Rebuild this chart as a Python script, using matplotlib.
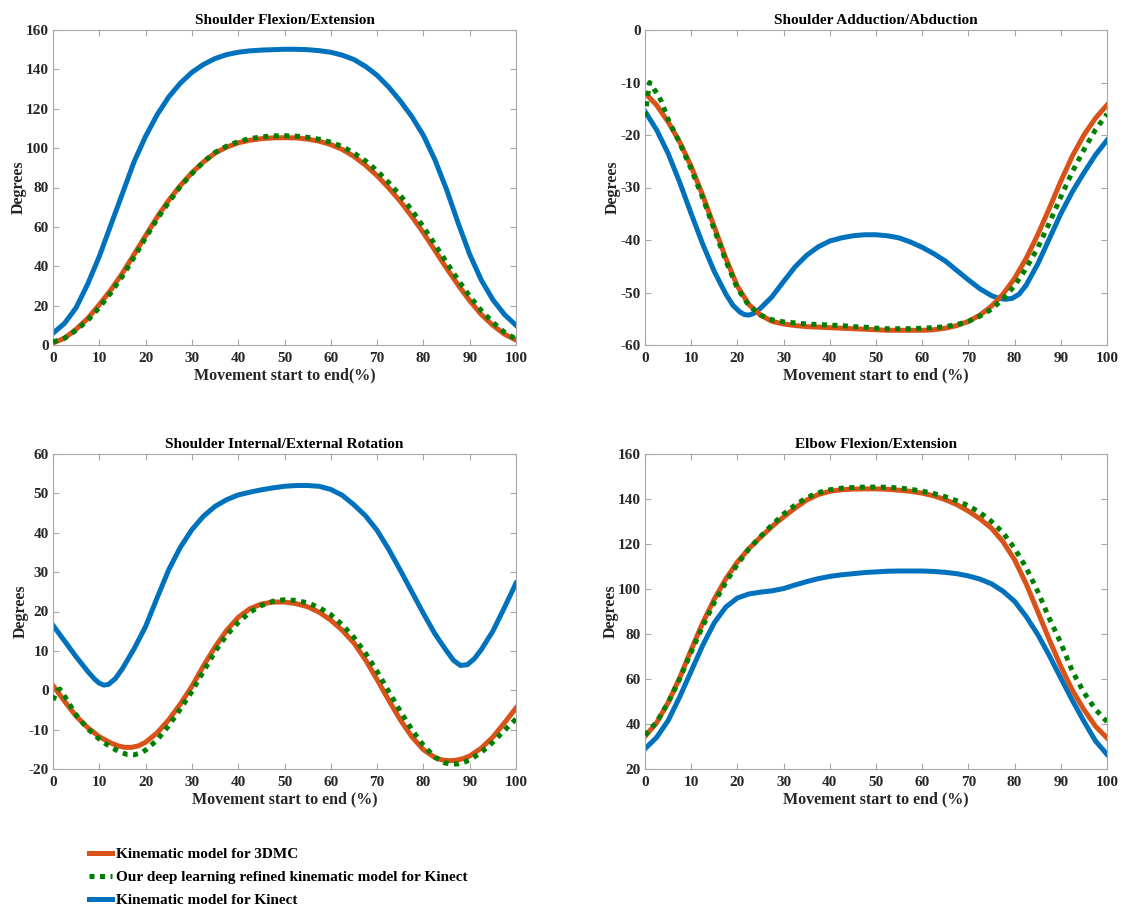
import numpy as np
import matplotlib
matplotlib.use("Agg")
import matplotlib.pyplot as plt

plt.rcParams['font.family'] = ['Liberation Serif', 'DejaVu Serif']
plt.rcParams['font.weight'] = 'bold'
plt.rcParams['axes.unicode_minus'] = False

# ---------------- data ----------------
x = [0, 2.5, 5, 7.5, 10, 12.5, 15, 17.5, 20, 22.5, 25, 27.5, 30, 32.5, 35, 37.5, 40,
     42.5, 45, 47.5, 50, 52.5, 55, 57.5, 60, 62.5, 65, 67.5, 70, 72.5, 75, 77.5, 80,
     82.5, 85, 87.5, 90, 92.5, 95, 97.5, 100]

# Shoulder Flexion/Extension
sfe_3dmc = [1, 3.5, 8, 13.5, 20.5, 28, 36.5, 46, 55.5, 65, 73.5, 81, 87.5, 93, 97.5, 100.5, 102.7,
            104, 104.8, 105.2, 105.3, 105.2, 104.6, 103.5, 101.8, 99.3, 95.8, 91.3, 86, 79.8, 73,
            65.3, 57, 48, 39, 30.5, 22.5, 15.5, 10, 5.5, 2.5]
sfe_dl = [1.5, 3.5, 7.5, 12.5, 19, 26.5, 35, 44.5, 54.5, 64, 72.5, 80.5, 87, 93, 97.8, 101, 103.3,
          104.8, 105.7, 106.2, 106.3, 106.1, 105.5, 104.5, 103, 100.8, 97.5, 93.5, 88.5, 82.5, 76,
          68.5, 60, 51, 42, 33, 24.8, 17.5, 11.5, 6.5, 3]
sfe_kin = [6, 11, 19, 31, 45, 61, 77, 93, 106, 117, 126, 133, 138.5, 142.5, 145.5, 147.5, 148.7,
           149.4, 149.8, 150, 150.2, 150.2, 150, 149.5, 148.7, 147.2, 145, 141.5, 137, 131, 124,
           116, 106.5, 94, 79, 62, 46, 33, 23, 15.5, 10]

# Shoulder Adduction/Abduction
saa_3dmc = [-12, -14.3, -17.5, -21.3, -26, -31.5, -37.5, -43.5, -48.8, -52.3, -54.3, -55.5, -56,
            -56.3, -56.5, -56.6, -56.7, -56.8, -56.9, -57, -57.1, -57.2, -57.2, -57.2, -57.2,
            -57.1, -56.8, -56.3, -55.5, -54.3, -52.6, -50.3, -47.3, -43.5, -39, -34, -28.8,
            -24, -20, -16.8, -14.3]
saa_dl_x = [0, 0.5, 1, 1.5, 2, 2.5, 3.5, 5, 7.5, 10, 12.5, 15, 17.5, 20, 22.5, 25, 27.5, 30, 32.5,
            35, 37.5, 40, 42.5, 45, 47.5, 50, 52.5, 55, 57.5, 60, 62.5, 65, 67.5, 70, 72.5, 75,
            77.5, 80, 82.5, 85, 87.5, 90, 92.5, 95, 97.5, 100]
saa_dl = [-16.5, -13, -10, -10.5, -11.3, -12, -13.5, -17, -21.5, -26.5, -32, -38, -44, -49.2,
          -52.5, -54.3, -55.2, -55.6, -55.8, -56, -56.1, -56.2, -56.3, -56.5, -56.6, -56.8,
          -56.9, -56.9, -56.9, -56.8, -56.7, -56.5, -56.1, -55.5, -54.5, -53.2, -51.2, -48.7,
          -45.4, -41.5, -36.8, -31.8, -27, -22.8, -19, -16]
saa_kin_x = [0, 2.5, 5, 7.5, 10, 12.5, 15, 17.5, 19, 20.5, 21.5, 22.5, 23.5, 25, 27.5, 30, 32.5,
             35, 37.5, 40, 42.5, 45, 47.5, 50, 52.5, 55, 57.5, 60, 62.5, 65, 67.5, 70, 72.5, 75,
             76.5, 78, 79.5, 81, 82.5, 85, 87.5, 90, 92.5, 95, 97.5, 100]
saa_kin = [-15.5, -19, -23.5, -29, -35, -40.8, -46, -50.3, -52.4, -53.7, -54.2, -54.3, -54.0,
           -53.0, -50.8, -47.9, -45.1, -42.9, -41.3, -40.2, -39.6, -39.2, -39, -39, -39.2, -39.6,
           -40.4, -41.4, -42.6, -44, -45.8, -47.6, -49.3, -50.6, -51.1, -51.3, -51.1, -50.3,
           -48.6, -44.6, -39.8, -35, -30.8, -27.2, -23.8, -21]

# Shoulder Internal/External Rotation
sier_3dmc_x = [0, 2.5, 5, 7.5, 10, 12.5, 14, 15.5, 17, 18.5, 20, 22.5, 25, 27.5, 30, 32.5, 35,
               37.5, 40, 42.5, 45, 47.5, 50, 52.5, 55, 57.5, 60, 62.5, 65, 67.5, 70, 72.5, 75,
               77.5, 80, 82.5, 84, 85.5, 87, 88.5, 90, 92.5, 95, 97.5, 100]
sier_3dmc = [1.2, -2.8, -6.6, -9.5, -11.8, -13.4, -14.1, -14.5, -14.5, -14.1, -13.2, -10.8, -7.5,
             -3.5, 1, 6.2, 11, 15.2, 18.5, 20.7, 21.9, 22.4, 22.4, 22, 21.2, 19.8, 17.8, 15.2, 12,
             7.7, 2.7, -2.5, -7.5, -11.8, -15.1, -17.1, -17.7, -17.9, -17.8, -17.4, -16.7, -14.7,
             -11.9, -8.3, -4.5]
sier_dl_x = [0, 1, 1.5, 2.5, 5, 7.5, 10, 12.5, 14.5, 16, 17.5, 19, 20, 22.5, 25, 27.5, 30, 32.5,
             35, 37.5, 40, 42.5, 45, 47.5, 50, 52.5, 55, 57.5, 60, 62.5, 65, 67.5, 70, 72.5, 75,
             77.5, 80, 82.5, 84.5, 86, 87.5, 89, 90, 92.5, 95, 97.5, 100]
sier_dl = [-2.5, 0, 0.3, -1.5, -6.3, -9.8, -12.4, -14.5, -15.7, -16.3, -16.4, -15.9, -15.2,
           -12.6, -9, -4.8, -0.3, 4.8, 9.8, 14, 17.2, 19.8, 21.5, 22.6, 23, 22.8, 22.2, 21, 19.2,
           16.6, 13.4, 9.4, 4.8, -0.3, -5.3, -10, -14, -17, -18.4, -18.8, -18.7, -18.2, -17.7,
           -15.8, -13.2, -10.2, -7.3]
sier_kin_x = [0, 2.5, 5, 7.5, 9, 10, 11, 12, 13.5, 15, 17.5, 20, 22.5, 25, 27.5, 30, 32.5, 35,
              37.5, 40, 42.5, 45, 47.5, 50, 52.5, 55, 57.5, 60, 62.5, 65, 67.5, 70, 72.5, 75,
              77.5, 80, 82.5, 85, 86.5, 88, 89.5, 91, 92.5, 95, 97.5, 100]
sier_kin = [16.5, 12.5, 8.5, 4.8, 2.8, 1.8, 1.3, 1.5, 3.0, 5.5, 10.5, 16.2, 23.5, 30.6, 36.3,
            40.8, 44.2, 46.7, 48.4, 49.6, 50.3, 50.9, 51.4, 51.8, 52, 52, 51.8, 51, 49.5, 47.1,
            44.3, 40.6, 35.8, 30.5, 25, 19.5, 14.3, 10, 7.6, 6.3, 6.5, 8.0, 10.3, 15, 21, 27.2]

# Elbow Flexion/Extension
efe_3dmc = [34.5, 40.5, 49.5, 60.5, 73, 85, 95.5, 104.5, 112, 118, 123, 127.8, 132, 136, 139.5,
            142, 143.4, 144.1, 144.4, 144.5, 144.5, 144.3, 143.9, 143.4, 142.6, 141.4, 139.7,
            137.5, 134.6, 131.2, 127, 121, 113, 102.3, 90, 77.5, 65.6, 55, 46.4, 39, 33.8]
efe_dl = [35, 40.8, 49.5, 60, 72, 83.5, 94, 103, 111, 117.8, 123.3, 128.5, 133.3, 137.3, 140.6,
          142.8, 144.1, 144.8, 145.1, 145.3, 145.3, 145.2, 144.9, 144.3, 143.5, 142.4, 141,
          139.2, 137, 134, 130, 125, 118, 109.5, 99, 87, 76, 63.5, 54, 46.5, 41]
efe_kin = [29, 34, 41.5, 52, 63.5, 75, 85, 92, 96, 97.8, 98.6, 99.2, 100.2, 101.8, 103.3, 104.6,
           105.6, 106.3, 106.8, 107.3, 107.6, 107.9, 108, 108, 108, 107.8, 107.4, 106.8, 105.8,
           104.4, 102.3, 99, 94.5, 87.8, 79.8, 70.5, 60.4, 50.5, 41.2, 32.5, 26.5]

titles = ["Shoulder Flexion/Extension", "Shoulder Adduction/Abduction",
          "Shoulder Internal/External Rotation", "Elbow Flexion/Extension"]
xlabels = ["Movement start to end(%)", "Movement start to end (%)",
           "Movement start to end (%)", "Movement start to end (%)"]
legend_labels = ["Kinematic model for 3DMC",
                 "Our deep learning refined kinematic model for Kinect",
                 "Kinematic model for Kinect"]
ylims = [(0, 160), (-60, 0), (-20, 60), (20, 160)]
yticks = [np.arange(0, 161, 20), np.arange(-60, 1, 10), np.arange(-20, 61, 10),
          np.arange(20, 161, 20)]

panels = [
    (x, sfe_3dmc, x, sfe_dl, x, sfe_kin),
    (x, saa_3dmc, saa_dl_x, saa_dl, saa_kin_x, saa_kin),
    (sier_3dmc_x, sier_3dmc, sier_dl_x, sier_dl, sier_kin_x, sier_kin),
    (x, efe_3dmc, x, efe_dl, x, efe_kin),
]

C_ORANGE = '#D95319'
C_GREEN = '#008000'
C_BLUE = '#0072BD'
SPINE = '#a8a8a8'
TXT = '#262626'

fig = plt.figure(figsize=(11.22, 9.07), dpi=100)
W, H = 1122, 907
boxes = [(53, 30, 516, 345), (645, 30, 1107, 345), (53, 454, 516, 769), (645, 454, 1107, 769)]

handles = None
for i, (bx, pdata) in enumerate(zip(boxes, panels)):
    l, t, r, b = bx
    ax = fig.add_axes([l / W, 1 - b / H, (r - l) / W, (b - t) / H])
    x1, y1, x2, y2, x3, y3 = pdata
    h1, = ax.plot(x1, y1, color=C_ORANGE, lw=3.6, zorder=2)
    h2, = ax.plot(x2, y2, color=C_GREEN, lw=3.6, linestyle=(0, (1, 1.1)), zorder=3)
    h3, = ax.plot(x3, y3, color=C_BLUE, lw=3.6, zorder=1)
    if handles is None:
        handles = [h1, h2, h3]
    ax.set_xlim(0, 100)
    ax.set_ylim(*ylims[i])
    ax.set_xticks(np.arange(0, 101, 10))
    ax.set_yticks(yticks[i])
    ax.tick_params(direction='in', top=True, right=True, length=4, width=0.8,
                   color=SPINE, labelcolor=TXT, labelsize=11)
    ax.tick_params(axis='x', pad=5)
    ax.tick_params(axis='y', pad=3)
    for lab in ax.get_xticklabels() + ax.get_yticklabels():
        lab.set_fontweight('bold')
    for s in ax.spines.values():
        s.set_color(SPINE)
        s.set_linewidth(0.8)
    ax.set_title(titles[i], fontsize=11, fontweight='bold', color='black', pad=4)
    ax.set_xlabel(xlabels[i], fontsize=11.5, fontweight='bold', color=TXT, labelpad=1.5)
    ax.set_ylabel("Degrees", fontsize=11.5, fontweight='bold', color=TXT, labelpad=-0.5)

fig.legend(handles, legend_labels, loc='upper left', bbox_to_anchor=(75 / W, 1 - 834 / H),
           frameon=False, handlelength=1.5, handletextpad=0.3,
           labelspacing=0.6, prop={'weight': 'bold', 'size': 11})

fig.savefig("out.png", dpi=100, facecolor='white')
